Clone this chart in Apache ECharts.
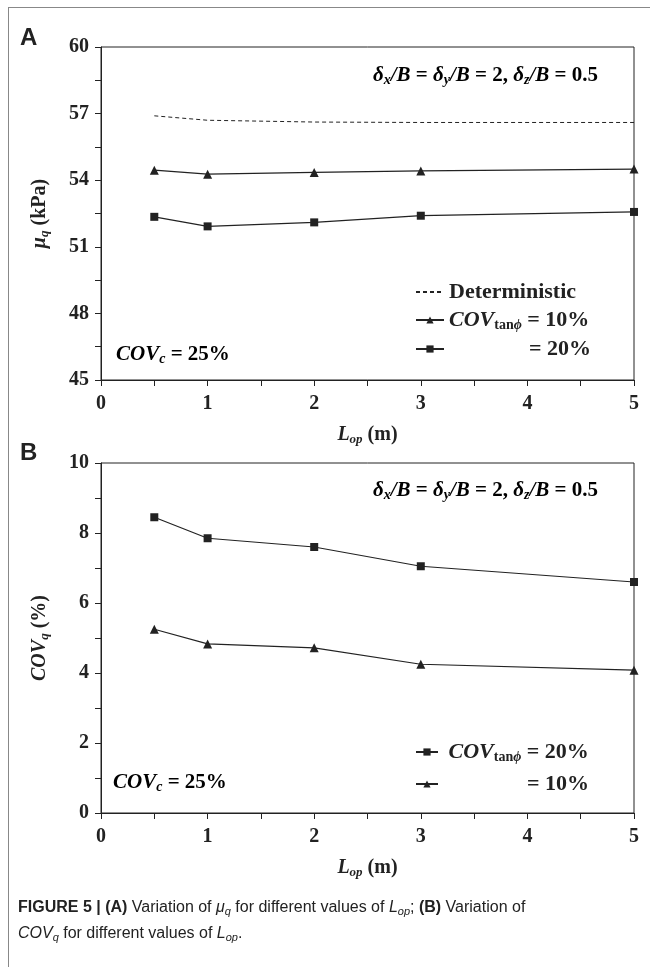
<!DOCTYPE html>
<html>
<head>
<meta charset="utf-8">
<script src="https://cdn.jsdelivr.net/npm/echarts@6/dist/echarts.min.js"></script>
<style>
  html, body { margin: 0; padding: 0; background: #fff; }
  #chart { width: 650px; height: 967px; }
</style>
</head>
<body>
<div id="chart"></div>
<script>
// data
const lop = [0.5, 1, 2, 3, 5]
const muDet = [56.9, 56.7, 56.62, 56.6, 56.6]
const mu10 = [54.45, 54.27, 54.35, 54.42, 54.5]
const mu20 = [52.35, 51.92, 52.1, 52.4, 52.57]
const cov20 = [8.45, 7.85, 7.6, 7.05, 6.6]
const cov10 = [5.25, 4.83, 4.72, 4.25, 4.08]

const pairs = ys => lop.map((x, i) => [x, ys[i]])

const serif = 'Liberation Serif, DejaVu Serif, serif'
const ink = '#222'
const subRich = {
  i: { fontStyle: 'italic', fontWeight: 'bold', fontFamily: serif, fontSize: 20, color: ink },
  s: { fontStyle: 'italic', fontWeight: 'bold', fontFamily: serif, fontSize: 13, color: ink, padding: [9, 0, 0, 0] },
  b: { fontWeight: 'bold', fontFamily: serif, fontSize: 20, color: ink },
}
const legRich = {
  i: { fontStyle: 'italic', fontWeight: 'bold', fontFamily: serif, fontSize: 22, color: ink },
  t: { fontWeight: 'bold', fontFamily: serif, fontSize: 14, color: ink, padding: [10, 0, 0, 0] },
  ts: { fontStyle: 'italic', fontWeight: 'bold', fontFamily: serif, fontSize: 14, color: ink, padding: [10, 0, 0, 0] },
  b: { fontWeight: 'bold', fontFamily: serif, fontSize: 22, color: ink },
  pad: { width: 80 },
  padB: { width: 84 },
}
const noteRich = {
  i: { fontStyle: 'italic', fontWeight: 'bold', fontFamily: serif, fontSize: 21, color: ink },
  s: { fontStyle: 'italic', fontWeight: 'bold', fontFamily: serif, fontSize: 14, color: ink, padding: [9, 0, 0, 0] },
  b: { fontWeight: 'bold', fontFamily: serif, fontSize: 21, color: ink },
}

const chart = echarts.init(document.getElementById('chart'))

function xAxis(gridIndex) {
  return {
    gridIndex,
    type: 'value', min: 0, max: 5, interval: 1,
    name: '{i|L}{s|op}{b| (m)}',
    nameLocation: 'middle', nameGap: 44,
    nameTextStyle: { rich: subRich },
    axisLine: { lineStyle: { color: ink, width: 1 } },
    axisTick: { show: true, length: 6, lineStyle: { color: ink } },
    minorTick: { show: true, splitNumber: 2, length: 6, lineStyle: { color: ink } },
    splitLine: { show: false },
    axisLabel: { margin: 14, fontFamily: serif, fontWeight: 'bold', fontSize: 20, color: ink },
  }
}

function yAxis(gridIndex, min, max, interval, name) {
  return {
    gridIndex,
    type: 'value', min, max, interval,
    name, nameLocation: 'middle', nameGap: 50, nameRotate: 90,
    nameTextStyle: { rich: subRich },
    axisLine: { show: true, lineStyle: { color: ink, width: 1 } },
    axisTick: { show: true, length: 6, lineStyle: { color: ink } },
    minorTick: { show: true, splitNumber: 2, length: 6, lineStyle: { color: ink } },
    splitLine: { show: false },
    axisLabel: { margin: 12, fontFamily: serif, fontWeight: 'bold', fontSize: 20, color: ink },
  }
}

function lineSeries(name, data, xi, symbol, size, dashed) {
  return {
    name, type: 'line', xAxisIndex: xi, yAxisIndex: xi,
    data,
    symbol: symbol || 'none', symbolSize: size || 0,
    itemStyle: { color: ink },
    lineStyle: { color: ink, width: dashed ? 1 : 1.2, type: dashed ? [4, 3] : 'solid' },
    animation: false,
  }
}

const legendBase = {
  orient: 'vertical',
  itemWidth: 28, itemHeight: 9, itemGap: 6,
  textStyle: { fontFamily: serif, fontWeight: 'bold', fontSize: 22, color: ink, rich: legRich },
}

const covLabel = v => '{i|COV}{t|tan}{ts|ϕ}{b| = ' + v + '%}'

chart.setOption({
  backgroundColor: '#fff',
  animation: false,
  grid: [
    { left: 101, top: 47, width: 533, height: 333, show: true, borderColor: ink, borderWidth: 1 },
    { left: 101, top: 463, width: 533, height: 350, show: true, borderColor: ink, borderWidth: 1 },
  ],
  xAxis: [xAxis(0), xAxis(1)],
  yAxis: [
    yAxis(0, 45, 60, 3, '{i|μ}{s|q}{b| (kPa)}'),
    yAxis(1, 0, 10, 2, '{i|COV}{s|q}{b| (%)}'),
  ],
  legend: [
    Object.assign({}, legendBase, {
      left: 410, top: 276,
      data: [{ name: 'Deterministic', itemStyle: { opacity: 0 } }, 'A10', 'A20'],
      formatter: n => n === 'Deterministic' ? '{b|Deterministic}' : n === 'A10' ? covLabel(10) : '{pad|}{b|= 20%}',
    }),
    Object.assign({}, legendBase, {
      left: 410, top: 736, itemWidth: 22, itemGap: 9,
      data: ['B20', 'B10'],
      formatter: n => n === 'B20' ? ' ' + covLabel(20) : '{padB|}{b|= 10%}',
    }),
  ],
  series: [
    lineSeries('Deterministic', pairs(muDet), 0, 'none', 0, true),
    lineSeries('A10', pairs(mu10), 0, 'triangle', 9),
    lineSeries('A20', pairs(mu20), 0, 'rect', 8),
    lineSeries('B20', pairs(cov20), 1, 'rect', 8),
    lineSeries('B10', pairs(cov10), 1, 'triangle', 9),
  ],
  graphic: [
    { type: 'line', shape: { x1: 8, y1: 7.5, x2: 650, y2: 7.5 }, style: { stroke: '#888', lineWidth: 1 } },
    { type: 'line', shape: { x1: 8.5, y1: 7, x2: 8.5, y2: 967 }, style: { stroke: '#888', lineWidth: 1 } },
    { type: 'text', left: 20, top: 26, style: { text: 'A', font: 'bold 24px Liberation Sans, Arial, sans-serif', fill: ink } },
    { type: 'text', left: 20, top: 441, style: { text: 'B', font: 'bold 24px Liberation Sans, Arial, sans-serif', fill: ink } },
    {
      type: 'text', right: 52, top: 65,
      style: { text: '{i|δ}{s|x}{i|/B}{b| = }{i|δ}{s|y}{i|/B}{b| = 2, }{i|δ}{s|z}{i|/B}{b| = 0.5}', rich: noteRich },
    },
    {
      type: 'text', right: 52, top: 480,
      style: { text: '{i|δ}{s|x}{i|/B}{b| = }{i|δ}{s|y}{i|/B}{b| = 2, }{i|δ}{s|z}{i|/B}{b| = 0.5}', rich: noteRich },
    },
    { type: 'text', left: 116, top: 344, style: { text: '{i|COV}{s|c}{b| = 25%}', rich: noteRich } },
    { type: 'text', left: 113, top: 772, style: { text: '{i|COV}{s|c}{b| = 25%}', rich: noteRich } },
    {
      type: 'text', left: 18, top: 900,
      style: {
        text: '{h|FIGURE 5 | (A)}{r| Variation of }{ri|μ}{rs|q}{r| for different values of }{ri|L}{rs|op}{r|; }{h|(B)}{r| Variation of}',
        rich: {
          h: { font: 'bold 16px Liberation Sans Narrow, Liberation Sans, Arial, sans-serif', fill: '#222' },
          r: { font: '16px Liberation Sans Narrow, Liberation Sans, Arial, sans-serif', fill: '#222' },
          ri: { font: 'italic 16px Liberation Sans Narrow, Liberation Sans, Arial, sans-serif', fill: '#222' },
          rs: { font: 'italic 11px Liberation Sans Narrow, Liberation Sans, Arial, sans-serif', fill: '#222', padding: [7, 0, 0, 0] },
        },
      },
    },
    {
      type: 'text', left: 18, top: 926,
      style: {
        text: '{ri|COV}{rs|q}{r| for different values of }{ri|L}{rs|op}{r|.}',
        rich: {
          r: { font: '16px Liberation Sans Narrow, Liberation Sans, Arial, sans-serif', fill: '#222' },
          ri: { font: 'italic 16px Liberation Sans Narrow, Liberation Sans, Arial, sans-serif', fill: '#222' },
          rs: { font: 'italic 11px Liberation Sans Narrow, Liberation Sans, Arial, sans-serif', fill: '#222', padding: [7, 0, 0, 0] },
        },
      },
    },
  ],
})
</script>
</body>
</html>
